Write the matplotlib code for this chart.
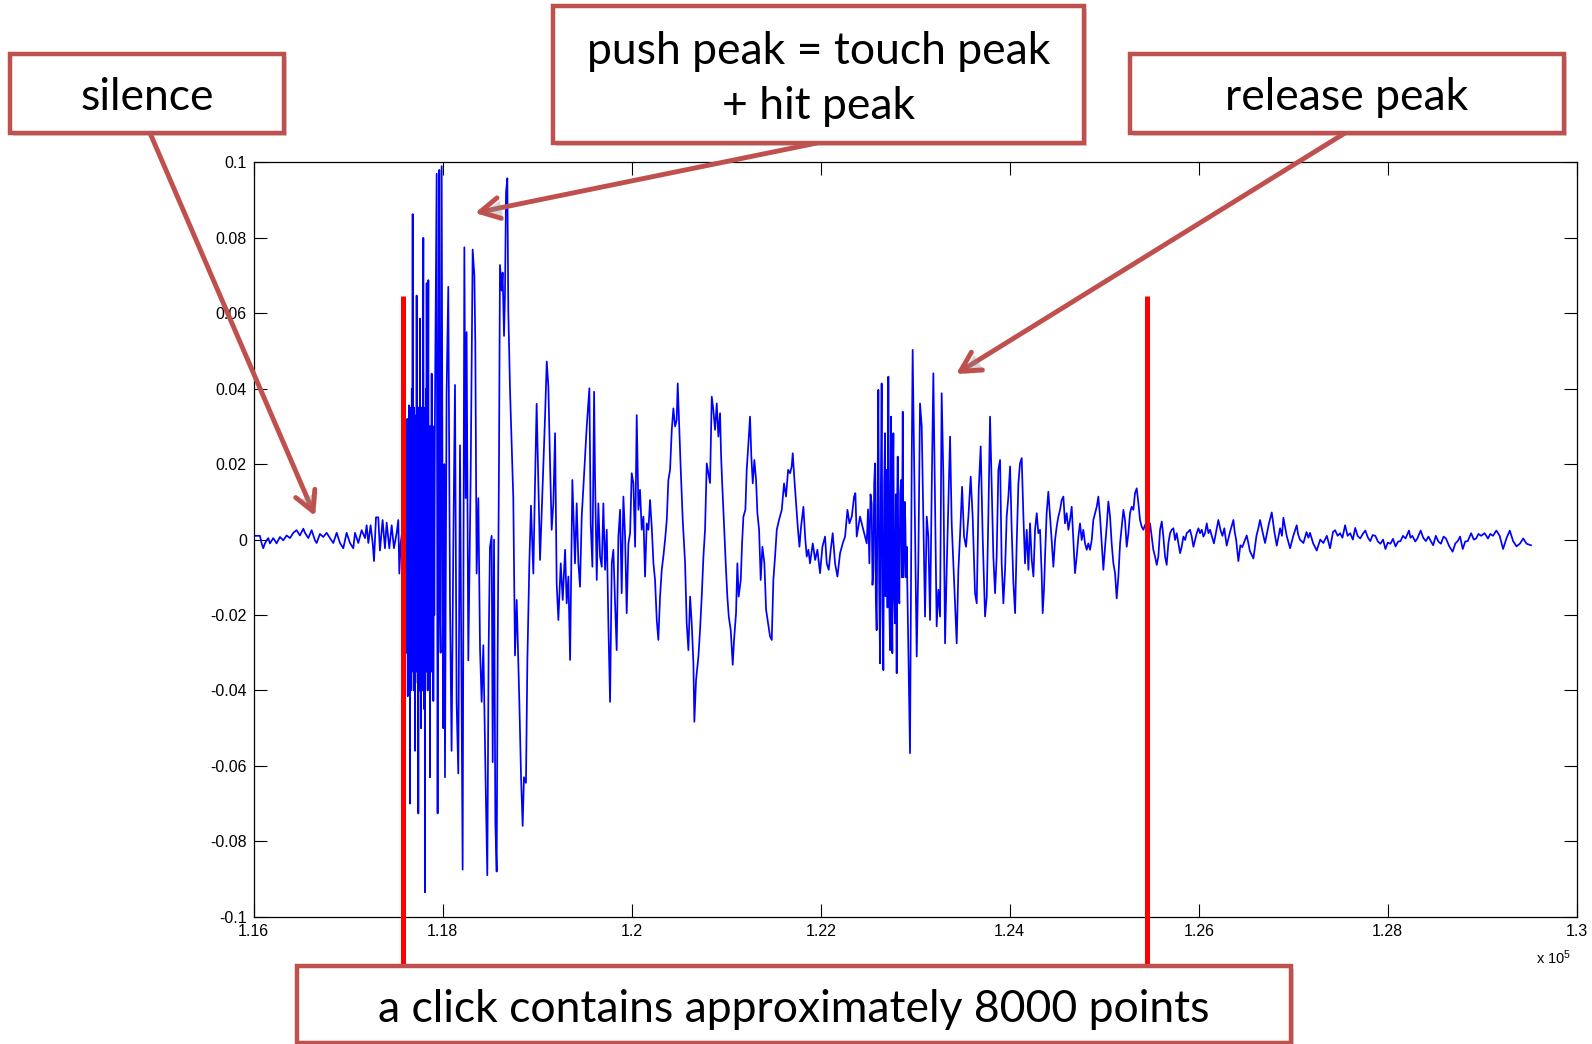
import matplotlib
matplotlib.use('Agg')
import matplotlib.pyplot as plt
import matplotlib.patheffects as pe
from matplotlib.patches import Rectangle, FancyArrowPatch
import numpy as np

# waveform samples (sample index, amplitude), split by part of the click
lead_x = [116000, 116030, 116065, 116083, 116100, 116118, 116136, 116153, 116171, 116206,
          116241, 116277, 116312, 116347, 116383, 116418, 116453, 116488, 116524, 116541,
          116577, 116612, 116647, 116665, 116700, 116735, 116771, 116806, 116841, 116877,
          116912, 116947, 116982, 117018, 117053, 117071, 117106, 117141, 117177, 117194,
          117212, 117236, 117258, 117272, 117293, 117317, 117335, 117363, 117388, 117406,
          117434, 117459, 117483, 117512, 117529, 117540, 117554, 117575, 117589]
lead_y = [0.001, 0.001, 0.001, -0.001, -0.0023, -0.001, -0.0002, 0.0004, -0.001, 0.0004,
          -0.001, 0.0007, -0.0002, 0.0011, 0.0004, 0.0018, 0.0025, 0.0011, 0.0029, 0.0018,
          0.0004, 0.0025, -0.0002, -0.0009, 0.0015, 0.0007, 0.0018, 0.0004, -0.0009, 0.0018,
          -0.0009, -0.0023, 0.0018, -0.0009, -0.0023, 0.0018, -0.0009, 0.0025, 0.0004, 0.0038,
          -0.0009, 0.0038, -0.0009, -0.0057, 0.0059, 0.0059, -0.0029, 0.0052, -0.0023, 0.0045,
          -0.0023, 0.0038, -0.0023, 0.0018, 0.0052, -0.009, -0.001, 0.003, -0.006]

push_x = [117600, 117606, 117611, 117617, 117620, 117624, 117629, 117635, 117639, 117642,
          117646, 117649, 117653, 117657, 117661, 117664, 117668, 117672, 117676, 117681,
          117685, 117688, 117692, 117695, 117699, 117703, 117706, 117710, 117713, 117717,
          117720, 117723, 117727, 117730, 117734, 117737, 117741, 117745, 117748, 117752,
          117755, 117758, 117762, 117766, 117770, 117774, 117778, 117781, 117785, 117790,
          117794, 117798, 117801, 117805, 117808, 117811, 117815, 117818, 117822, 117826,
          117829, 117833, 117836, 117840, 117843, 117847, 117851, 117854, 117858, 117861,
          117864, 117868, 117871, 117875, 117879, 117882, 117886, 117889, 117893, 117897,
          117900, 117905, 117910, 117917, 117935, 117945, 117952,
          117963, 117970, 117977, 117988, 117998, 118005, 118016, 118023, 118040, 118058,
          118076, 118093, 118111, 118129, 118146, 118164, 118182, 118210, 118228, 118242,
          118252, 118270, 118295, 118316, 118334, 118344, 118358, 118376, 118394, 118411,
          118429, 118447, 118457, 118471, 118485, 118499, 118517, 118528, 118542, 118556,
          118570, 118581, 118595, 118605, 118623, 118633, 118648, 118658, 118669, 118683,
          118693, 118711, 118729, 118746, 118764, 118782, 118810, 118828, 118845, 118859,
          118880, 118895, 118916, 118933, 118958, 118976, 118993]
push_y = [0.010, -0.025, 0.030, 0.018, -0.030, 0.032, -0.0415, 0.025, -0.035, 0.0356,
          -0.040, 0.030, -0.070, 0.035, -0.040, 0.030, -0.035, 0.040, -0.030, 0.0863,
          -0.035, 0.030, -0.040, 0.035, -0.030, 0.033, -0.056, 0.030, -0.035, 0.025,
          -0.030, 0.0647, -0.035, 0.030, -0.038, 0.035, -0.0726, 0.035, -0.030, 0.032,
          -0.040, 0.0586, -0.040, 0.030, -0.050, 0.035, -0.035, 0.030, -0.040, 0.040,
          0.080, -0.040, 0.030, -0.045, 0.025, -0.0935, 0.035, -0.030, 0.040, -0.035,
          0.068, -0.030, 0.030, -0.040, 0.035, 0.0688, -0.035, 0.025, -0.035, 0.030,
          -0.063, 0.030, -0.030, 0.025, -0.035, 0.044, -0.030, 0.020, -0.030, 0.025,
          -0.0428, 0.030, -0.020, 0.035, 0.097, -0.0726, 0.020,
          0.098, -0.020, -0.030, 0.099, 0.000, -0.050, 0.020, -0.063, 0.039, 0.067,
          -0.016, -0.056, -0.002, 0.041, -0.043, -0.062, 0.025, -0.0875, 0.0775, 0.011,
          0.055, -0.032, 0.017, 0.0769, 0.070, 0.052, -0.009, 0.011, -0.029, -0.043,
          -0.028, -0.055, -0.070, -0.089, -0.029, -0.002, 0.001, -0.059, 0.000, -0.075,
          -0.088, -0.029, 0.022, 0.0728, 0.066, 0.0708, 0.054, 0.065, 0.092, 0.0958,
          0.061, 0.040, 0.025, 0.011, -0.0307, -0.016, -0.043, -0.063, -0.0759, -0.063,
          -0.0645, -0.032, -0.006, 0.009, -0.009, 0.015, 0.036]

mid_x = [119029, 119064, 119082, 119100, 119117, 119135, 119152, 119170, 119188, 119205,
         119223, 119248, 119269, 119294, 119311, 119329, 119347, 119371, 119399, 119417,
         119435, 119452, 119470, 119488, 119523, 119551, 119565, 119583, 119601, 119611,
         119629, 119646, 119664, 119682, 119699, 119717, 119735, 119752, 119770, 119788,
         119805, 119823, 119840, 119858, 119876, 119893, 119911, 119929, 119946, 119964,
         119982, 119999, 120017, 120035, 120052, 120070, 120087, 120105, 120123, 120140,
         120158, 120176, 120193, 120211, 120229, 120246, 120264, 120281, 120299, 120317,
         120334, 120352, 120370, 120387, 120405, 120423, 120440, 120458, 120475, 120486,
         120504, 120518, 120539, 120564, 120581, 120599, 120617, 120634, 120652, 120662,
         120680, 120705, 120722, 120740, 120758, 120775, 120793, 120828, 120846, 120863,
         120881, 120899, 120916, 120934, 120944, 120955, 120969, 120987, 120997, 121011,
         121026, 121047, 121068, 121082, 121103, 121117, 121131, 121153, 121167, 121181,
         121202, 121216, 121234, 121251, 121265, 121280, 121297, 121315, 121329, 121347,
         121364, 121382, 121403, 121421, 121442, 121463, 121481, 121498, 121516, 121534,
         121558, 121587, 121611, 121632, 121654, 121675, 121692, 121703, 121721, 121738,
         121756, 121774, 121791, 121816, 121834, 121851, 121869, 121886, 121915, 121940,
         121964, 121992, 122017, 122045, 122063, 122084, 122105, 122126, 122151, 122176,
         122204, 122232, 122257, 122282, 122303, 122328, 122352, 122366, 122380]
mid_y = [-0.0054, 0.0194, 0.0326, 0.0472, 0.0406, 0.0202, 0.0026, 0.0096, 0.0282, -0.0116,
         -0.0213, -0.0063, -0.0160, -0.0027, -0.0169, -0.0098, -0.0319, 0.0158, -0.0063, 0.0096,
         -0.0063, -0.0125, 0.0061, 0.0140, 0.0300, 0.0401, 0.0043, -0.0072, 0.0392, 0.0167,
         -0.0107, 0.0096, -0.0045, -0.0072, 0.0096, -0.0080, 0.0026, -0.0222, -0.0430, -0.0063,
         -0.0027, -0.0169, -0.0293, 0.0008, 0.0079, -0.0142, 0.0114, 0.0008, -0.0195, -0.0010,
         0.0017, 0.0176, 0.0149, -0.0019, 0.0330, 0.0079, 0.0132, 0.0026, 0.0061, -0.0098,
         0.0043, 0.0026, 0.0105, 0.0034, -0.0063, -0.0107, -0.0213, -0.0266, -0.0151, -0.0080,
         -0.0045, -0.0001, 0.0052, 0.0158, 0.0185, 0.0291, 0.0348, 0.0300, 0.0317, 0.0414,
         0.0282, 0.0185, 0.0052, -0.0063, -0.0222, -0.0293, -0.0151, -0.0222, -0.0328, -0.0483,
         -0.0372, -0.0310, -0.0240, -0.0151, -0.0045, 0.0026, 0.0202, 0.0150, 0.0379, 0.0344,
         0.0291, 0.0361, 0.0273, 0.0335, 0.0229, 0.0158, 0.0079, -0.0019, -0.0080, -0.0151,
         -0.0204, -0.0240, -0.0332, -0.0266, -0.0195, -0.0063, -0.0151, -0.0107, -0.0010, 0.0061,
         0.0079, 0.0185, 0.0255, 0.0326, 0.0220, 0.0149, 0.0211, 0.0158, 0.0070, 0.0026,
         -0.0107, -0.0019, -0.0063, -0.0186, -0.0222, -0.0257, -0.0266, -0.0107, -0.0045, 0.0026,
         0.0052, 0.0079, 0.0149, 0.0114, 0.0185, 0.0176, 0.0194, 0.0229, 0.0158, 0.0096,
         0.0034, -0.0019, 0.0034, 0.0087, 0.0008, -0.0045, -0.0027, -0.0063, -0.0010, -0.0054,
         -0.0027, -0.0089, -0.0019, 0.0008, -0.0063, -0.0080, -0.0027, 0.0017, -0.0063, -0.0098,
         -0.0036, -0.0010, 0.0008, 0.0079, 0.0043, 0.0061, 0.0114, 0.0123, 0.0008]

release_x = [122415, 122450, 122486, 122500, 122514, 122526, 122538, 122547, 122556, 122565,
             122574, 122582, 122591, 122600, 122609, 122618, 122627, 122636, 122644, 122653,
             122662, 122671, 122680, 122685, 122690, 122694, 122697, 122706, 122715, 122724,
             122733, 122738, 122743, 122750, 122757, 122762, 122768, 122776, 122785, 122794,
             122803, 122808, 122814, 122822, 122831, 122840, 122849, 122858, 122867, 122874,
             122881, 122888, 122895, 122902, 122909, 122937,
             122944, 122962, 122972, 122997, 123015, 123032, 123050, 123068, 123085, 123103,
             123121, 123138, 123156, 123174, 123191, 123209, 123226, 123244, 123262, 123279,
             123297, 123315, 123332, 123350, 123368, 123385, 123403, 123420, 123438, 123456,
             123473, 123495, 123516, 123537, 123562, 123586, 123607, 123632, 123650, 123671,
             123692, 123713, 123738, 123756, 123773, 123791, 123809, 123826, 123844, 123861,
             123879, 123897, 123914, 123932, 123950, 123967, 123985, 124003, 124020, 124038,
             124056, 124073, 124091, 124108, 124126, 124144, 124161, 124179, 124197, 124214,
             124232, 124250, 124267, 124285, 124302, 124320]
release_y = [0.0061, 0.0026, -0.0010, 0.0080, -0.0063, 0.0120, 0.0096, -0.0120, -0.0080, 0.0150,
             0.0202, -0.0150, -0.0240, 0.0120, 0.0397, -0.0120, -0.0328, 0.0150, 0.0414, -0.0180,
             -0.0346, 0.0150, 0.0282, -0.0150, -0.0063, 0.0120, 0.0185, -0.0180, 0.0432, -0.0150,
             -0.0293, 0.0120, 0.0326, -0.0150, -0.0301, 0.0150, 0.0282, -0.0150, -0.0222, 0.0120,
             -0.0354, 0.0100, 0.0220, -0.0120, -0.0169, 0.0120, 0.0158, -0.0100, 0.0339, -0.0100,
             -0.0045, 0.0100, 0.0043, -0.0100, -0.0019, -0.0460,
             -0.0566, 0.0202, 0.0503, 0.0026, -0.0310, -0.0063, 0.0361, 0.0300, 0.0061, -0.0204,
             0.0061, 0.0008, -0.0213, 0.0140, 0.0441, 0.0096, -0.0230, -0.0133, -0.0204, 0.0388,
             0.0167, -0.0275, -0.0080, 0.0096, 0.0273, 0.0043, -0.0063, -0.0169, -0.0275, -0.0080,
             0.0008, 0.0140, 0.0008, -0.0019, 0.0061, 0.0167, 0.0061, -0.0142, -0.0169, 0.0132,
             0.0247, 0.0008, -0.0204, -0.0151, 0.0061, 0.0326, 0.0132, -0.0045, -0.0142, -0.0045,
             0.0185, 0.0211, -0.0063, -0.0169, -0.0080, 0.0061, 0.0114, 0.0194, 0.0026, -0.0116,
             -0.0195, -0.0010, 0.0149, 0.0202, 0.0216, 0.0061, -0.0063, 0.0026, -0.0080, 0.0043,
             -0.0054, -0.0098, 0.0026, 0.0070, 0.0017, 0.0026]

decay_x = [124337, 124348, 124362, 124373, 124390, 124408, 124426, 124443, 124461, 124479,
           124496, 124514, 124532, 124549, 124567, 124584, 124602, 124620, 124637, 124655,
           124673, 124690, 124708, 124726, 124743, 124761, 124778, 124796, 124814, 124831,
           124849, 124867, 124884, 124902, 124920, 124937, 124955, 124973, 124990, 125008,
           125025, 125043, 125061, 125078, 125096, 125114, 125131, 125149, 125167, 125184,
           125202, 125219, 125237, 125255, 125272, 125290, 125308, 125325, 125343, 125361,
           125378, 125396, 125414, 125431, 125449, 125484, 125502, 125519, 125537, 125555,
           125572, 125590, 125608, 125625, 125643, 125660, 125678, 125696, 125713, 125731,
           125749, 125766, 125784, 125802, 125819, 125837, 125855, 125872, 125890, 125907,
           125925, 125943, 125960, 125978, 125996, 126013, 126031, 126049, 126066, 126084,
           126102, 126119]
decay_y = [-0.0089, -0.0195, -0.0133, -0.0045, 0.0070, 0.0127, 0.0061, -0.0001, -0.0072, -0.0001,
           0.0034, 0.0061, 0.0079, 0.0105, 0.0114, 0.0043, 0.0070, 0.0026, 0.0052, 0.0087,
           -0.0001, -0.0089, -0.0045, 0.0008, 0.0043, -0.0001, 0.0026, -0.0010, -0.0027, -0.0010,
           -0.0027, -0.0001, 0.0052, 0.0070, 0.0087, 0.0114, 0.0061, -0.0010, -0.0080, -0.0019,
           0.0034, 0.0101, 0.0061, -0.0010, -0.0063, -0.0089, -0.0156, -0.0098, -0.0010, 0.0034,
           0.0079, 0.0052, -0.0019, 0.0017, 0.0070, 0.0087, 0.0079, 0.0123, 0.0136, 0.0096,
           0.0052, 0.0034, 0.0026, 0.0039, 0.0026, 0.0043, 0.0008, -0.0027, -0.0045, -0.0067,
           -0.0045, 0.0026, 0.0048, 0.0008, -0.0045, -0.0067, -0.0010, 0.0017, 0.0026, 0.0030,
           -0.0001, 0.0017, -0.0010, -0.0036, -0.0019, 0.0008, -0.0001, 0.0017, 0.0021, 0.0026,
           0.0008, -0.0019, -0.0001, 0.0017, 0.0030, 0.0017, 0.0026, 0.0008, 0.0017, 0.0043,
           0.0017, 0.0026]

tail_x = [126160, 126207, 126230, 126250, 126270, 126295, 126330, 126366, 126380, 126395,
          126419, 126440, 126460, 126507, 126525, 126540, 126578, 126610, 126630, 126648,
          126675, 126701, 126720, 126740, 126772, 126800, 126825, 126860, 126880, 126895,
          126930, 126966, 127000, 127036, 127050, 127070, 127107, 127140, 127160, 127177,
          127210, 127248, 127285, 127318, 127355, 127389, 127420, 127442, 127470, 127495,
          127520, 127548, 127575, 127602, 127630, 127655, 127680, 127708, 127735, 127762,
          127790, 127815, 127840, 127868, 127895, 127922, 127950, 127975, 128000, 128028,
          128055, 128082, 128110, 128135, 128160, 128188, 128224, 128240, 128260, 128290,
          128313, 128348, 128375, 128402, 128430, 128455, 128480, 128508, 128535, 128562,
          128590, 128615, 128651, 128686, 128715, 128740, 128765, 128793, 128820, 128846,
          128882, 128910, 128935, 128960, 128988, 129024, 129060, 129085, 129113, 129149,
          129184, 129220, 129255, 129291, 129326, 129362, 129397, 129433, 129469, 129515]
tail_y = [-0.0010, 0.0052, 0.0025, 0.0010, 0.0030, -0.0016, 0.0020, 0.0052, 0.0020, 0.0000,
          -0.0057, -0.0015, -0.0020, 0.0011, -0.0010, -0.0030, -0.0050, 0.0010, 0.0030, 0.0052,
          0.0020, -0.0009, 0.0015, 0.0040, 0.0072, 0.0020, -0.0016, 0.0030, 0.0010, 0.0058,
          0.0010, -0.0023, 0.0010, 0.0038, 0.0015, 0.0000, -0.0009, 0.0020, 0.0005, 0.0018,
          -0.0010, -0.0029, 0.0000, -0.0009, 0.0010, -0.0023, 0.0020, 0.0025, 0.0010, 0.0017,
          0.0005, 0.0038, 0.0010, 0.0017, 0.0000, 0.0031, 0.0010, 0.0003, 0.0015, 0.0024,
          0.0005, -0.0004, 0.0012, 0.0010, -0.0005, -0.0011, 0.0000, -0.0025, -0.0008, -0.0011,
          0.0002, -0.0018, -0.0005, -0.0004, 0.0010, 0.0003, 0.0024, 0.0005, 0.0010, -0.0005,
          0.0003, 0.0024, 0.0005, -0.0004, 0.0008, -0.0004, -0.0015, 0.0010, -0.0005, -0.0011,
          0.0008, 0.0003, -0.0018, -0.0032, -0.0010, -0.0004, 0.0008, -0.0025, -0.0005, -0.0004,
          0.0017, 0.0000, 0.0003, 0.0015, 0.0010, 0.0017, 0.0003, 0.0015, 0.0010, 0.0024,
          0.0010, -0.0025, 0.0003, 0.0024, -0.0004, -0.0018, -0.0011, 0.0003, -0.0011, -0.0015]

# start and end of one click (sample index)
click_bounds = [117580, 125455]

x_ticks = [116000, 118000, 120000, 122000, 124000, 126000, 128000, 130000]
x_tick_labels = ['1.16', '1.18', '1.2', '1.22', '1.24', '1.26', '1.28', '1.3']
y_ticks = [-0.1, -0.08, -0.06, -0.04, -0.02, 0, 0.02, 0.04, 0.06, 0.08, 0.1]
y_tick_labels = ['-0.1', '-0.08', '-0.06', '-0.04', '-0.02', '0', '0.02', '0.04', '0.06', '0.08', '0.1']

wave_x = np.concatenate([lead_x, push_x, mid_x, release_x, decay_x, tail_x])
wave_y = np.concatenate([lead_y, push_y, mid_y, release_y, decay_y, tail_y])

plt.rcParams['font.family'] = ['Liberation Sans', 'DejaVu Sans']
plt.rcParams['mathtext.default'] = 'regular'

W, H = 1592, 1044
fig = plt.figure(figsize=(W / 100, H / 100), dpi=100)


def fx(px):
    return px / W


def fy(py):
    return 1 - py / H


ax = fig.add_axes([fx(253.8), fy(916.8), (1576.8 - 253.8) / W, (916.8 - 162.4) / H])
ax.plot(wave_x, wave_y, color='#0000ff', lw=1.25)
ax.set_xlim(116000, 130000)
ax.set_ylim(-0.1, 0.1)
ax.set_xticks(x_ticks)
ax.set_xticklabels(x_tick_labels)
ax.set_yticks(y_ticks)
ax.set_yticklabels(y_tick_labels)
ax.tick_params(direction='in', length=9.5, width=0.8, top=True, right=True,
               labelsize=11.5, pad=5)
for s in ax.spines.values():
    s.set_linewidth(0.9)

# red markers at the beginning and end of the click
for xc in click_bounds:
    ax.plot([xc, xc], [0.0647, -0.1129], color='#ff0000', lw=3.6,
            clip_on=False, solid_capstyle='butt', zorder=3)

fig.text(fx(1571), fy(958), r'x 10$^{5}$', ha='right', va='center', fontsize=10.5)

box_color = '#C0504D'
shadow = [pe.SimplePatchShadow(offset=(2, -2), shadow_rgbFace='#888888', alpha=0.35), pe.Normal()]
label_font = ['Lato', 'DejaVu Sans']


def callout(x0, y0, x1, y1, text, size=32):
    r = Rectangle((fx(x0), fy(y1)), (x1 - x0) / W, (y1 - y0) / H, transform=fig.transFigure,
                  facecolor='white', edgecolor=box_color, lw=3.2, zorder=5, path_effects=shadow)
    fig.patches.append(r)
    fig.text(fx((x0 + x1) / 2), fy((y0 + y1) / 2 + 4.5), text, ha='center', va='center',
             fontsize=size, family=label_font, zorder=6, linespacing=1.42)


def arrow(x0, y0, x1, y1):
    a = FancyArrowPatch((fx(x0), fy(y0)), (fx(x1), fy(y1)), transform=fig.transFigure,
                        arrowstyle='->,head_length=1.4,head_width=0.75', mutation_scale=10,
                        color=box_color, lw=3.5, shrinkA=0, shrinkB=0, zorder=4,
                        path_effects=shadow)
    fig.patches.append(a)


callout(10, 54, 284, 133, 'silence')
callout(553, 6, 1084, 143, 'push peak = touch peak\n+ hit peak')
callout(1130, 54, 1564, 133, 'release peak')
callout(297, 966, 1291, 1043, 'a click contains approximately 8000 points')

arrow(150, 133, 315, 516)
arrow(817, 143, 475, 213)
arrow(1345, 133, 956, 374)

fig.savefig('out.png', dpi=100)
